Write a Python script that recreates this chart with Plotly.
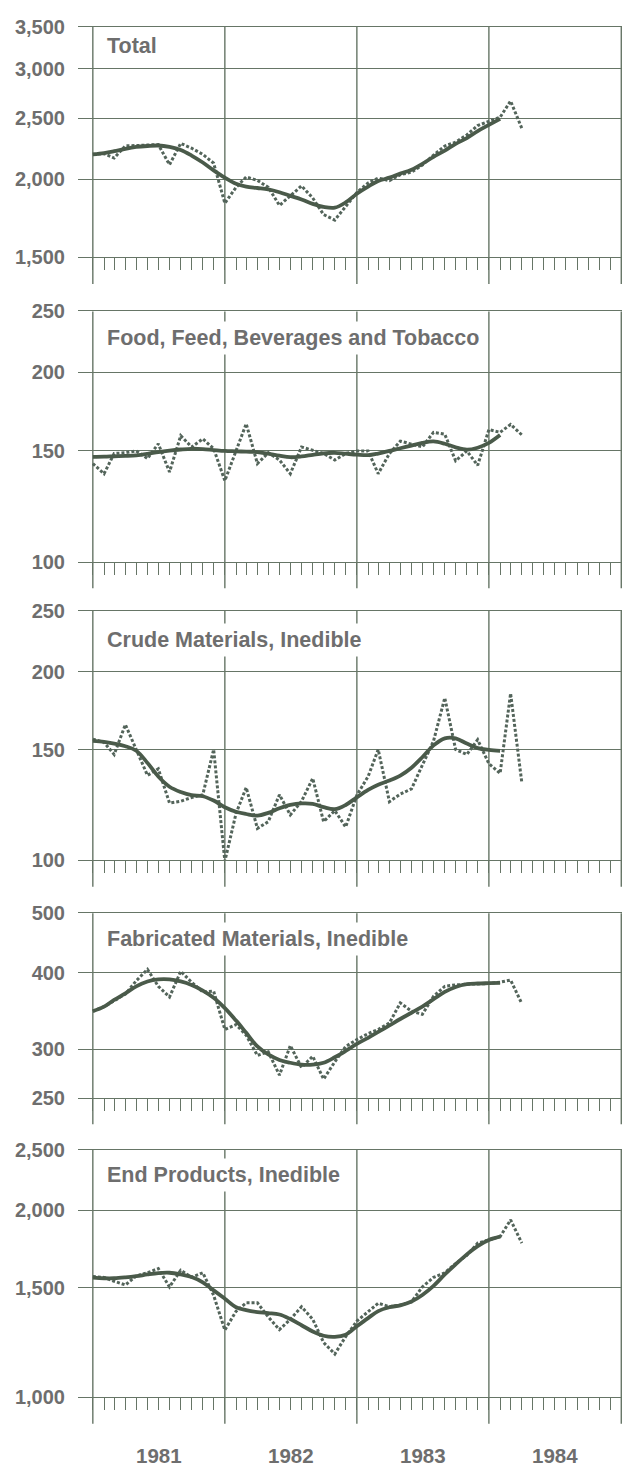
import math
import pandas as pd
import plotly.graph_objects as go

# ---------------- data (monthly, Jan 1981 - Apr 1984) ----------------
months = pd.date_range("1981-01-01", periods=40, freq="MS").strftime("%Y-%m-%d").tolist()
trend_months = months[:38]

total_monthly = [2190, 2195, 2160, 2260, 2262, 2265, 2270, 2108, 2280, 2240, 2190, 2120,
                 1830, 1940, 2015, 1990, 1940, 1815, 1880, 1950, 1865, 1755, 1720, 1805,
                 1903, 1971, 2007, 1988, 2032, 2051, 2105, 2184, 2258, 2290, 2352, 2434,
                 2470, 2510, 2664, 2410]
total_trend = [2190, 2200, 2215, 2235, 2250, 2258, 2262, 2250, 2225, 2180, 2125, 2065,
               2010, 1965, 1945, 1935, 1925, 1905, 1880, 1855, 1825, 1805, 1800, 1835,
               1895, 1945, 1985, 2010, 2040, 2070, 2115, 2170, 2220, 2275, 2325, 2385,
               2440, 2495]

food_monthly = [143.2, 138.0, 148.6, 149.0, 150.0, 145.9, 154.0, 138.9, 158.6, 152.2, 156.8, 151.3,
                134.5, 150.4, 165.7, 143.2, 149.0, 145.1, 138.0, 152.2, 150.4, 148.6, 145.1, 148.6,
                150.0, 150.0, 138.0, 148.6, 155.5, 154.0, 152.2, 160.6, 159.5, 144.7, 150.0, 142.3,
                162.2, 160.6, 165.3, 159.1]
food_trend = [146.8, 146.9, 147.1, 147.3, 147.6, 148.4, 149.4, 150.2, 150.8, 151.2, 151.0, 150.5,
              150.0, 149.8, 149.6, 149.4, 148.5, 147.4, 146.6, 147.0, 147.9, 148.7, 149.0, 148.5,
              148.0, 147.7, 148.6, 150.0, 151.5, 153.0, 154.5, 155.3, 154.0, 152.0, 150.7, 151.8,
              154.5, 159.0]

crude_monthly = [156.0, 154.2, 147.5, 164.6, 150.2, 136.6, 139.9, 123.4, 124.2, 125.9, 127.2, 150.2,
                 99.6, 118.8, 130.6, 112.4, 115.2, 127.2, 118.1, 124.2, 135.1, 115.2, 120.0, 113.0,
                 127.0, 136.0, 150.2, 124.0, 127.5, 130.0, 141.8, 155.0, 181.6, 150.2, 147.5, 155.7,
                 142.6, 137.6, 184.6, 133.0]
crude_trend = [155.0, 154.5, 153.5, 152.0, 149.5, 143.0, 136.0, 131.0, 128.5, 127.0, 126.5, 124.5,
               121.5, 119.5, 118.5, 117.8, 119.0, 121.0, 122.5, 123.2, 123.0, 121.5, 120.6, 122.5,
               126.0, 129.5, 132.0, 134.0, 136.5, 140.5, 146.0, 152.5, 156.5, 156.5, 153.5, 151.0,
               150.0, 149.5]

fab_monthly = [346, 352, 360, 369, 388, 405, 380, 365, 402, 386, 372, 373,
               323, 329, 316, 293, 297, 272, 304, 280, 292, 268, 286, 303,
               311, 318, 323, 331, 357, 346, 342, 366, 380, 382, 383, 383,
               384, 386, 389, 356]
fab_trend = [346, 352, 361, 370, 380, 387, 390, 390, 387, 382, 374, 364,
             350, 334, 319, 303, 294, 288, 285, 283, 283, 285, 291, 298,
             306, 313, 320, 328, 336, 344, 352, 362, 372, 379, 383, 384,
             384.5, 385]

end_monthly = [1563, 1558, 1536, 1515, 1567, 1585, 1610, 1504, 1600, 1558, 1585, 1458,
               1282, 1374, 1418, 1418, 1346, 1284, 1334, 1397, 1334, 1224, 1173, 1251,
               1325, 1374, 1416, 1398, 1406, 1423, 1504, 1558, 1585, 1640, 1691, 1769,
               1790, 1812, 1928, 1769]
end_trend = [1557, 1553, 1553, 1558, 1565, 1575, 1583, 1585, 1575, 1560, 1530, 1485,
             1440, 1395, 1380, 1370, 1365, 1358, 1335, 1305, 1275, 1255, 1250, 1260,
             1300, 1340, 1375, 1395, 1405, 1425, 1460, 1510, 1575, 1635, 1697, 1750,
             1790, 1812]

titles = ["Total", "Food, Feed, Beverages and Tobacco", "Crude Materials, Inedible",
          "Fabricated Materials, Inedible", "End Products, Inedible"]
y_ticks = [[1500, 2000, 2500, 3000, 3500],
           [100, 150, 200, 250],
           [100, 150, 200, 250],
           [250, 300, 400, 500],
           [1000, 1500, 2000, 2500]]
year_labels = ["1981", "1982", "1983", "1984"]
year_label_dates = ["1981-07-02", "1982-07-02", "1983-07-02", "1984-07-02"]
year_lines = ["1981-01-01", "1982-01-01", "1983-01-01", "1984-01-01", "1985-01-01"]
tick_months = pd.date_range("1981-01-01", "1985-01-01", freq="MS").strftime("%Y-%m-%d").tolist()

series = [(total_monthly, total_trend), (food_monthly, food_trend), (crude_monthly, crude_trend),
          (fab_monthly, fab_trend), (end_monthly, end_trend)]

# ---------------- layout geometry (pixels) ----------------
W, H = 622, 1478
PLOT_LEFT = 78
panel_px = [(16, 250), (305, 559), (609, 862), (916, 1103), (1156, 1407)]  # top, bottom
title_px = [36, 332, 639, 942, 1182]
year_label_px = 1466
below_ext = 27

GRID = "#667566"
LINE = "#4a5a4a"
DOT = "#53645a"
TEXT = "#6e6e6e"
FONT = "Liberation Sans, Arial, sans-serif"

fig = go.Figure()
layout = dict(width=W, height=H, margin=dict(l=0, r=0, t=0, b=0),
              plot_bgcolor="white", paper_bgcolor="white", showlegend=False,
              font=dict(family=FONT, color=TEXT))
shapes, annotations = [], []

for i, ((monthly, trend), ticks, title, (top, bot), tpx) in enumerate(
        zip(series, y_ticks, titles, panel_px, title_px), start=1):
    xs = "" if i == 1 else str(i)
    fig.add_trace(go.Scatter(x=months, y=monthly, mode="lines",
                             line=dict(color=DOT, width=3, dash="3px,2px"),
                             xaxis="x" + xs, yaxis="y" + xs, hoverinfo="skip"))
    fig.add_trace(go.Scatter(x=trend_months, y=trend, mode="lines",
                             line=dict(color=LINE, width=3.8, shape="spline", smoothing=1.0),
                             xaxis="x" + xs, yaxis="y" + xs, hoverinfo="skip"))
    layout["xaxis" + xs] = dict(
        type="date", domain=[PLOT_LEFT / W, 1], range=["1980-11-21", "1985-01-03"],
        anchor="y" + xs, showgrid=False, zeroline=False, showline=True, mirror=True,
        linecolor=GRID, linewidth=1.4, ticks="outside", ticklen=12, tickwidth=1.3,
        tickcolor=GRID, tickvals=tick_months, showticklabels=False, fixedrange=True)
    layout["yaxis" + xs] = dict(
        type="log", domain=[1 - bot / H, 1 - top / H],
        range=[math.log10(ticks[0]), math.log10(ticks[-1])],
        anchor="x" + xs, tickvals=ticks, ticktext=[f"{v:,}" for v in ticks],
        showgrid=True, gridcolor=GRID, gridwidth=1.4, zeroline=False, showline=False,
        ticks="", ticklabelstandoff=12,
        tickfont=dict(size=20, color=TEXT, family=FONT, weight="bold"), fixedrange=True)
    ext = below_ext / (bot - top)
    for d in year_lines:
        shapes.append(dict(type="line", xref="x" + xs, yref="y" + xs + " domain",
                           x0=d, x1=d, y0=-ext, y1=1, layer="below",
                           line=dict(color=GRID, width=1.4)))
    annotations.append(dict(text=title, xref="paper", yref="paper", x=102 / W, y=1 - tpx / H,
                            xanchor="left", yanchor="middle", showarrow=False,
                            bgcolor="white", borderpad=4,
                            font=dict(size=21.5, color=TEXT, family=FONT, weight="bold")))

for lab, d in zip(year_labels, year_label_dates):
    annotations.append(dict(text=lab, xref="x5", yref="paper", x=d, y=1 - year_label_px / H,
                            xanchor="center", yanchor="middle", showarrow=False,
                            font=dict(size=20.5, color=TEXT, family=FONT, weight="bold")))

layout["shapes"] = shapes
layout["annotations"] = annotations
fig.update_layout(**layout)
fig.write_html("out.html", config={"displayModeBar": False},
               post_script="document.body.style.margin='0';document.body.style.overflow='hidden';")
